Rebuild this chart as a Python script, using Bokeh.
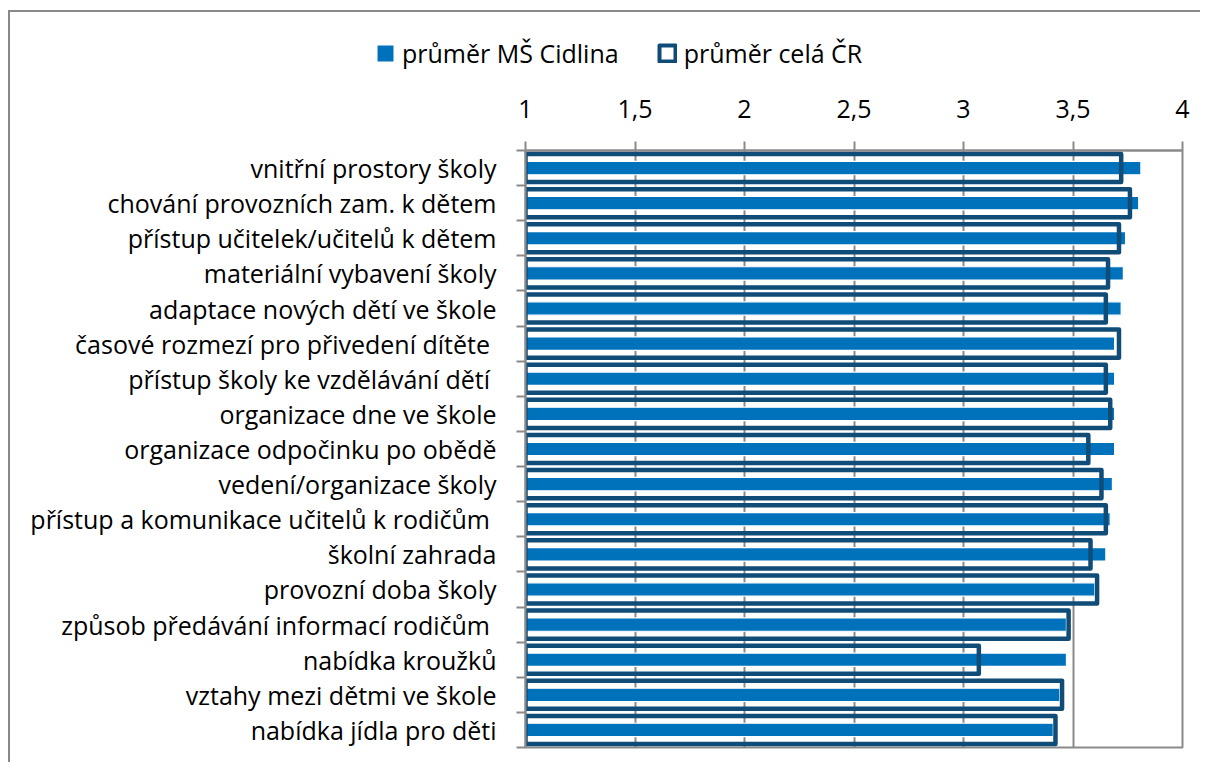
from bokeh.plotting import figure
from bokeh.layouts import column
from bokeh.models import Range1d, FixedTicker, Legend, LegendItem, ColumnDataSource
from bokeh.embed import file_html
from bokeh.resources import INLINE

categories = [
    "vnitřní prostory školy",
    "chování provozních zam. k dětem",
    "přístup učitelek/učitelů k dětem",
    "materiální vybavení školy",
    "adaptace nových dětí ve škole",
    "časové rozmezí pro přivedení dítěte ",
    "přístup školy ke vzdělávání dětí ",
    "organizace dne ve škole",
    "organizace odpočinku po obědě",
    "vedení/organizace školy",
    "přístup a komunikace učitelů k rodičům ",
    "školní zahrada",
    "provozní doba školy",
    "způsob předávání informací rodičům ",
    "nabídka kroužků",
    "vztahy mezi dětmi ve škole",
    "nabídka jídla pro děti",
]
cidlina = [3.81, 3.80, 3.74, 3.73, 3.72, 3.69, 3.69, 3.69, 3.69, 3.68, 3.67, 3.65, 3.60, 3.47, 3.47, 3.44, 3.41]
cr = [3.72, 3.76, 3.71, 3.66, 3.65, 3.71, 3.65, 3.67, 3.57, 3.63, 3.65, 3.58, 3.61, 3.48, 3.07, 3.45, 3.42]
x_ticks = [1, 1.5, 2, 2.5, 3, 3.5, 4]
x_tick_labels = ["1", "1,5", "2", "2,5", "3", "3,5", "4"]
series_names = ["průměr MŠ Cidlina", "průměr celá ČR"]

FONT = "Open Sans"
FSIZE = "25px"
BLUE = "#0072BC"
NAVY = "#0F4C77"
GRID = "#8A8A8A"

n = len(categories)
ypos = [n - i - 0.5 for i in range(n)]
src = ColumnDataSource(dict(y=ypos, cat=categories, cid=cidlina, cr=cr))

# ---------- main chart ----------
p = figure(width=1190, height=684, x_range=Range1d(1, 4), y_range=Range1d(0, n),
           output_backend="svg", toolbar_location=None, x_axis_location="above",
           min_border_left=515, min_border_right=18, min_border_top=72, min_border_bottom=15)
p.frame_align = False

p.hbar(y="y", left=1, right="cid", height=0.38, fill_color=BLUE, line_color="white",
       line_width=1.2, source=src)
p.hbar(y="y", left=1, right="cr", height=0.8, fill_color=None, line_color=NAVY,
       line_width=4.5, line_join="round", source=src)

xa = p.xaxis[0]
xa.ticker = FixedTicker(ticks=x_ticks)
xa.major_label_overrides = {t: l for t, l in zip(x_ticks, x_tick_labels)}
xa.axis_line_color = GRID
xa.axis_line_width = 2
xa.major_tick_line_color = GRID
xa.major_tick_line_width = 2
xa.major_tick_out = 9
xa.major_tick_in = 0
xa.minor_tick_line_color = None
xa.major_label_standoff = 24
xa.major_label_text_font = FONT
xa.major_label_text_font_size = FSIZE
xa.major_label_text_color = "black"

ya = p.yaxis[0]
ya.ticker = FixedTicker(ticks=ypos, minor_ticks=list(range(n + 1)))
ya.major_label_overrides = {y: c for y, c in zip(ypos, categories)}
ya.axis_line_color = GRID
ya.axis_line_width = 2
ya.major_tick_line_color = None
ya.major_tick_out = 0
ya.major_tick_in = 0
ya.minor_tick_line_color = GRID
ya.minor_tick_line_width = 2
ya.minor_tick_out = 9
ya.minor_tick_in = 0
ya.major_label_standoff = 20
ya.major_label_text_font = FONT
ya.major_label_text_font_size = FSIZE
ya.major_label_text_color = "black"

p.xgrid.ticker = FixedTicker(ticks=x_ticks)
p.xgrid.grid_line_color = GRID
p.xgrid.grid_line_width = 2
p.ygrid.grid_line_color = None
p.outline_line_color = GRID
p.outline_line_width = 2
p.background_fill_color = "white"
p.border_fill_color = "white"

# ---------- legend strip ----------
lg = figure(width=1190, height=66, x_range=Range1d(0, 1), y_range=Range1d(0, 1),
            output_backend="svg", toolbar_location=None,
            x_axis_location=None, y_axis_location=None,
            min_border_left=0, min_border_right=0, min_border_top=0, min_border_bottom=0)
lg.frame_align = False
lg.grid.visible = False
lg.outline_line_color = None
lg.background_fill_color = "white"
lg.border_fill_color = "white"
# legend proxies (hidden renderers sharing the chart data)
lr1 = lg.hbar(y="y", left=1, right="cid", height=0.38, fill_color=BLUE, line_color=None,
              source=src, visible=False)
lr2 = lg.hbar(y="y", left=1, right="cr", height=0.8, fill_color=None, line_color=NAVY,
              line_width=4.0, line_join="round", source=src, visible=False)
legend = Legend(items=[LegendItem(label=series_names[0], renderers=[lr1]),
                       LegendItem(label=series_names[1], renderers=[lr2])],
                orientation="horizontal", location=(365, 8),
                glyph_width=20, glyph_height=20, label_standoff=7, spacing=38,
                padding=0, margin=0, border_line_color=None, background_fill_alpha=0,
                label_text_font=FONT, label_text_font_size=FSIZE, label_text_color="black")
lg.add_layout(legend, "center")

layout = column(lg, p, spacing=0,
                styles={"border-left": "2px solid #898989", "border-top": "2px solid #898989",
                        "margin-left": "8px", "margin-top": "10px"})

open("out.html", "w").write(file_html(layout, INLINE))
